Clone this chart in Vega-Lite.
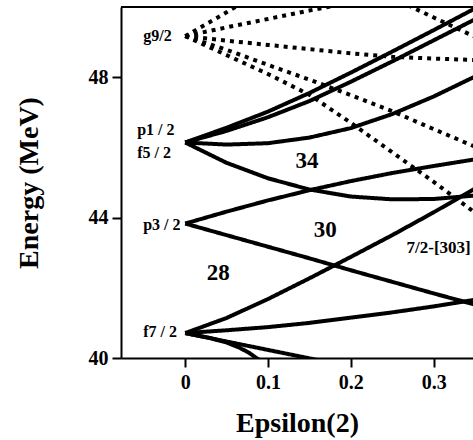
{
  "$schema": "https://vega.github.io/schema/vega-lite/v6.json",
  "width": 352,
  "height": 351,
  "autosize": "none",
  "padding": {"left": 121, "top": 7, "right": 0, "bottom": 82},
  "background": "white",
  "config": {
    "view": {"stroke": null},
    "font": "Liberation Serif",
    "axis": {
      "grid": false,
      "domainColor": "black",
      "domainWidth": 2,
      "tickColor": "black",
      "tickWidth": 2,
      "tickSize": 9,
      "labelFont": "Liberation Serif",
      "labelFontSize": 20,
      "labelFontWeight": "bold",
      "labelColor": "black",
      "titleFont": "Liberation Serif",
      "titleFontSize": 28,
      "titleFontWeight": "bold",
      "titleColor": "black"
    }
  },
  "datasets": {
    "levels": [
      {"line": "g1", "style": "dotted", "eps": 0, "E": 49.17},
      {"line": "g1", "style": "dotted", "eps": 0.05, "E": 49.85},
      {"line": "g1", "style": "dotted", "eps": 0.1, "E": 50.55},
      {"line": "g2", "style": "dotted", "eps": 0, "E": 49.17},
      {"line": "g2", "style": "dotted", "eps": 0.05, "E": 49.42},
      {"line": "g2", "style": "dotted", "eps": 0.1, "E": 49.66},
      {"line": "g2", "style": "dotted", "eps": 0.15, "E": 49.9},
      {"line": "g2", "style": "dotted", "eps": 0.2, "E": 50.13},
      {"line": "g3", "style": "dotted", "eps": 0, "E": 49.17},
      {"line": "g3", "style": "dotted", "eps": 0.05, "E": 49.04},
      {"line": "g3", "style": "dotted", "eps": 0.1, "E": 48.92},
      {"line": "g3", "style": "dotted", "eps": 0.15, "E": 48.8},
      {"line": "g3", "style": "dotted", "eps": 0.2, "E": 48.68},
      {"line": "g3", "style": "dotted", "eps": 0.25, "E": 48.58},
      {"line": "g3", "style": "dotted", "eps": 0.3, "E": 48.53},
      {"line": "g3", "style": "dotted", "eps": 0.35, "E": 48.49},
      {"line": "g4", "style": "dotted", "eps": 0, "E": 49.17},
      {"line": "g4", "style": "dotted", "eps": 0.05, "E": 48.78},
      {"line": "g4", "style": "dotted", "eps": 0.1, "E": 48.35},
      {"line": "g4", "style": "dotted", "eps": 0.15, "E": 47.93},
      {"line": "g4", "style": "dotted", "eps": 0.2, "E": 47.49},
      {"line": "g4", "style": "dotted", "eps": 0.25, "E": 47.03},
      {"line": "g4", "style": "dotted", "eps": 0.3, "E": 46.52},
      {"line": "g4", "style": "dotted", "eps": 0.35, "E": 46.02},
      {"line": "g5", "style": "dotted", "eps": 0, "E": 49.17},
      {"line": "g5", "style": "dotted", "eps": 0.05, "E": 48.63},
      {"line": "g5", "style": "dotted", "eps": 0.1, "E": 48.09},
      {"line": "g5", "style": "dotted", "eps": 0.15, "E": 47.5},
      {"line": "g5", "style": "dotted", "eps": 0.2, "E": 46.7},
      {"line": "g5", "style": "dotted", "eps": 0.25, "E": 45.86},
      {"line": "g5", "style": "dotted", "eps": 0.3, "E": 45.02},
      {"line": "g5", "style": "dotted", "eps": 0.35, "E": 44.14},
      {"line": "h1", "style": "dotted", "eps": 0.2, "E": 50.8},
      {"line": "h1", "style": "dotted", "eps": 0.25, "E": 50.27},
      {"line": "h1", "style": "dotted", "eps": 0.3, "E": 49.7},
      {"line": "h1", "style": "dotted", "eps": 0.35, "E": 49.15},
      {"line": "A", "style": "solid", "eps": 0, "E": 46.14},
      {"line": "A", "style": "solid", "eps": 0.05, "E": 46.56},
      {"line": "A", "style": "solid", "eps": 0.1, "E": 47.02},
      {"line": "A", "style": "solid", "eps": 0.15, "E": 47.55},
      {"line": "A", "style": "solid", "eps": 0.2, "E": 48.13},
      {"line": "A", "style": "solid", "eps": 0.25, "E": 48.73},
      {"line": "A", "style": "solid", "eps": 0.3, "E": 49.34},
      {"line": "A", "style": "solid", "eps": 0.35, "E": 49.96},
      {"line": "B", "style": "solid", "eps": 0, "E": 46.14},
      {"line": "B", "style": "solid", "eps": 0.05, "E": 46.47},
      {"line": "B", "style": "solid", "eps": 0.1, "E": 46.86},
      {"line": "B", "style": "solid", "eps": 0.15, "E": 47.32},
      {"line": "B", "style": "solid", "eps": 0.2, "E": 47.87},
      {"line": "B", "style": "solid", "eps": 0.25, "E": 48.45},
      {"line": "B", "style": "solid", "eps": 0.3, "E": 49.05},
      {"line": "B", "style": "solid", "eps": 0.35, "E": 49.65},
      {"line": "C", "style": "solid", "eps": 0, "E": 46.14},
      {"line": "C", "style": "solid", "eps": 0.05, "E": 46.08},
      {"line": "C", "style": "solid", "eps": 0.1, "E": 46.12},
      {"line": "C", "style": "solid", "eps": 0.15, "E": 46.28},
      {"line": "C", "style": "solid", "eps": 0.2, "E": 46.55},
      {"line": "C", "style": "solid", "eps": 0.25, "E": 46.95},
      {"line": "C", "style": "solid", "eps": 0.3, "E": 47.45},
      {"line": "C", "style": "solid", "eps": 0.35, "E": 48.02},
      {"line": "D", "style": "solid", "eps": 0, "E": 46.14},
      {"line": "D", "style": "solid", "eps": 0.05, "E": 45.56},
      {"line": "D", "style": "solid", "eps": 0.1, "E": 45.12},
      {"line": "D", "style": "solid", "eps": 0.15, "E": 44.8},
      {"line": "D", "style": "solid", "eps": 0.2, "E": 44.6},
      {"line": "D", "style": "solid", "eps": 0.25, "E": 44.52},
      {"line": "D", "style": "solid", "eps": 0.3, "E": 44.53},
      {"line": "D", "style": "solid", "eps": 0.35, "E": 44.63},
      {"line": "E", "style": "solid", "eps": 0, "E": 43.83},
      {"line": "E", "style": "solid", "eps": 0.05, "E": 44.17},
      {"line": "E", "style": "solid", "eps": 0.1, "E": 44.49},
      {"line": "E", "style": "solid", "eps": 0.15, "E": 44.78},
      {"line": "E", "style": "solid", "eps": 0.2, "E": 45.04},
      {"line": "E", "style": "solid", "eps": 0.25, "E": 45.27},
      {"line": "E", "style": "solid", "eps": 0.3, "E": 45.47},
      {"line": "E", "style": "solid", "eps": 0.35, "E": 45.66},
      {"line": "F", "style": "solid", "eps": 0, "E": 43.83},
      {"line": "F", "style": "solid", "eps": 0.05, "E": 43.5},
      {"line": "F", "style": "solid", "eps": 0.1, "E": 43.17},
      {"line": "F", "style": "solid", "eps": 0.15, "E": 42.84},
      {"line": "F", "style": "solid", "eps": 0.2, "E": 42.5},
      {"line": "F", "style": "solid", "eps": 0.25, "E": 42.17},
      {"line": "F", "style": "solid", "eps": 0.3, "E": 41.84},
      {"line": "F", "style": "solid", "eps": 0.35, "E": 41.52},
      {"line": "G", "style": "solid", "eps": 0, "E": 40.71},
      {"line": "G", "style": "solid", "eps": 0.05, "E": 41.14},
      {"line": "G", "style": "solid", "eps": 0.1, "E": 41.68},
      {"line": "G", "style": "solid", "eps": 0.15, "E": 42.27},
      {"line": "G", "style": "solid", "eps": 0.2, "E": 42.88},
      {"line": "G", "style": "solid", "eps": 0.25, "E": 43.5},
      {"line": "G", "style": "solid", "eps": 0.3, "E": 44.15},
      {"line": "G", "style": "solid", "eps": 0.35, "E": 44.83},
      {"line": "H", "style": "solid", "eps": 0, "E": 40.71},
      {"line": "H", "style": "solid", "eps": 0.05, "E": 40.79},
      {"line": "H", "style": "solid", "eps": 0.1, "E": 40.88},
      {"line": "H", "style": "solid", "eps": 0.15, "E": 41.0},
      {"line": "H", "style": "solid", "eps": 0.2, "E": 41.15},
      {"line": "H", "style": "solid", "eps": 0.25, "E": 41.3},
      {"line": "H", "style": "solid", "eps": 0.3, "E": 41.47},
      {"line": "H", "style": "solid", "eps": 0.35, "E": 41.66},
      {"line": "I", "style": "solid", "eps": 0, "E": 40.71},
      {"line": "I", "style": "solid", "eps": 0.03, "E": 40.57},
      {"line": "I", "style": "solid", "eps": 0.05, "E": 40.44},
      {"line": "I", "style": "solid", "eps": 0.065, "E": 40.3},
      {"line": "I", "style": "solid", "eps": 0.077, "E": 40.15},
      {"line": "I", "style": "solid", "eps": 0.086, "E": 40.0},
      {"line": "I", "style": "solid", "eps": 0.1, "E": 39.8},
      {"line": "J", "style": "solid", "eps": 0, "E": 40.71},
      {"line": "J", "style": "solid", "eps": 0.05, "E": 40.47},
      {"line": "J", "style": "solid", "eps": 0.1, "E": 40.23},
      {"line": "J", "style": "solid", "eps": 0.15, "E": 39.99},
      {"line": "J", "style": "solid", "eps": 0.2, "E": 39.75}
    ],
    "labels": [
      {"kind": "level", "text": "g9/2", "eps": -0.0507, "E": 49.17},
      {"kind": "level", "text": "p1 / 2", "eps": -0.058, "E": 46.49},
      {"kind": "level", "text": "f5 / 2", "eps": -0.058, "E": 45.83},
      {"kind": "level", "text": "p3 / 2", "eps": -0.0507, "E": 43.8},
      {"kind": "level", "text": "f7 / 2", "eps": -0.0507, "E": 40.74},
      {"kind": "magic", "text": "34", "eps": 0.147, "E": 45.6},
      {"kind": "magic", "text": "30", "eps": 0.169, "E": 43.66},
      {"kind": "magic", "text": "28", "eps": 0.04, "E": 42.43},
      {"kind": "orbit", "text": "7/2-[303]", "eps": 0.306, "E": 43.14}
    ]
  },
  "layer": [
    {
      "data": {"values": [{}]},
      "mark": {"type": "rule", "color": "black", "strokeWidth": 2},
      "encoding": {"y": {"datum": 50, "type": "quantitative"}}
    },
    {
      "data": {"name": "levels"},
      "mark": {"type": "line", "clip": true, "color": "black", "strokeWidth": 4},
      "encoding": {
        "x": {
          "field": "eps",
          "type": "quantitative",
          "scale": {"domain": [-0.0775, 0.3475], "nice": false, "zero": false},
          "axis": {
            "title": "Epsilon(2)",
            "values": [0, 0.1, 0.2, 0.3],
            "labelExpr": "datum.value == 0 ? '0' : format(datum.value, '.1f')",
            "labelPadding": 5,
            "titlePadding": 17
          }
        },
        "y": {
          "field": "E",
          "type": "quantitative",
          "scale": {"domain": [40, 50], "nice": false, "zero": false},
          "axis": {
            "title": "Energy (MeV)",
            "values": [40, 44, 48],
            "labelPadding": 4,
            "titlePadding": 45
          }
        },
        "detail": {"field": "line"},
        "order": {"field": "eps"},
        "strokeDash": {
          "field": "style",
          "type": "nominal",
          "scale": {"domain": ["solid", "dotted"], "range": [[1, 0], [4, 5]]},
          "legend": null
        }
      }
    },
    {
      "data": {"name": "labels"},
      "transform": [{"filter": "datum.kind == 'level'"}],
      "mark": {"type": "text", "align": "left", "baseline": "middle", "font": "Liberation Serif", "fontWeight": "bold", "fontSize": 16, "color": "black"},
      "encoding": {
        "x": {"field": "eps", "type": "quantitative"},
        "y": {"field": "E", "type": "quantitative"},
        "text": {"field": "text"}
      }
    },
    {
      "data": {"name": "labels"},
      "transform": [{"filter": "datum.kind == 'magic'"}],
      "mark": {"type": "text", "align": "center", "baseline": "middle", "font": "Liberation Serif", "fontWeight": "bold", "fontSize": 23, "color": "black"},
      "encoding": {
        "x": {"field": "eps", "type": "quantitative"},
        "y": {"field": "E", "type": "quantitative"},
        "text": {"field": "text"}
      }
    },
    {
      "data": {"name": "labels"},
      "transform": [{"filter": "datum.kind == 'orbit'"}],
      "mark": {"type": "text", "align": "center", "baseline": "middle", "font": "Liberation Serif", "fontWeight": "bold", "fontSize": 17, "color": "black"},
      "encoding": {
        "x": {"field": "eps", "type": "quantitative"},
        "y": {"field": "E", "type": "quantitative"},
        "text": {"field": "text"}
      }
    }
  ]
}
